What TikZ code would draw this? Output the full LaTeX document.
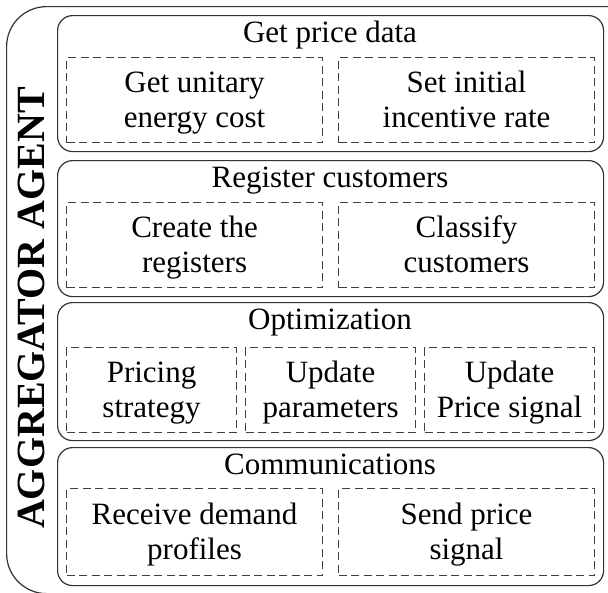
\documentclass[tikz,border=0pt]{standalone}
\usepackage{fontspec}
\setmainfont{Liberation Serif}

% two lines of a task, with a fixed height and depth
\newcommand{\twolines}[2]{\rule[-7pt]{0pt}{34pt}#1\\\rule[-7pt]{0pt}{34pt}#2}

\tikzset{
  panel/.style={draw=black!80,line width=1.2pt,rounded corners=15pt,anchor=north west,
    inner sep=0pt,minimum width=546pt},
  task/.style={draw=black!75,line width=1.1pt,dash pattern=on 8pt off 4.5pt,anchor=north west,
    inner sep=0pt,align=center,font=\fontsize{31}{35}\selectfont},
  title/.style={anchor=base,inner sep=0pt,font=\fontsize{31}{35}\selectfont}
}

\begin{document}
\begin{tikzpicture}[x=1pt,y=-1pt]
  \useasboundingbox (0,0) rectangle (608,592);
  % outer frame, open to the right and below
  \node[draw=black!80,line width=1.2pt,rounded corners=40pt,anchor=north west,inner sep=0pt,
    minimum width=700pt,minimum height=587pt] (frame) at (6,6) {};
  \node[rotate=90,inner sep=0pt,font=\fontsize{40}{42}\selectfont\bfseries] (agent) at (31,308) {AGGREGATOR AGENT};

  % get price data
  \node[panel,minimum height=136pt] (price) at (57,15) {};
  \node[title] (pricet) at (330,42) {Get price data};
  \node[task,minimum width=256pt,minimum height=85pt] (cost) at (66,57) {\twolines{Get unitary}{energy cost}};
  \node[task,minimum width=256pt,minimum height=85pt] (rate) at (338,57) {\twolines{Set initial}{incentive rate}};

  % register customers
  \node[panel,minimum height=136pt] (reg) at (57,160) {};
  \node[title] (regt) at (330,187) {Register customers};
  \node[task,minimum width=256pt,minimum height=85pt] (create) at (66,202) {\twolines{Create the}{registers}};
  \node[task,minimum width=256pt,minimum height=85pt] (classify) at (338,202) {\twolines{Classify}{customers}};

  % optimization
  \node[panel,minimum height=138pt] (opt) at (57,302) {};
  \node[title] (optt) at (330,329) {Optimization};
  \node[task,minimum width=170pt,minimum height=85pt] (pricing) at (66,347) {\twolines{Pricing}{strategy}};
  \node[task,minimum width=170pt,minimum height=85pt] (params) at (245,347) {\twolines{Update}{parameters}};
  \node[task,minimum width=170pt,minimum height=85pt] (signal) at (424,347) {\twolines{Update}{Price signal}};

  % communications
  \node[panel,minimum height=138pt] (comm) at (57,447) {};
  \node[title] (commt) at (330,474) {Communications};
  \node[task,minimum width=256pt,minimum height=87pt] (receive) at (66,488) {\twolines{Receive demand}{profiles}};
  \node[task,minimum width=256pt,minimum height=87pt] (send) at (338,488) {\twolines{Send price}{signal}};
\end{tikzpicture}
\end{document}
